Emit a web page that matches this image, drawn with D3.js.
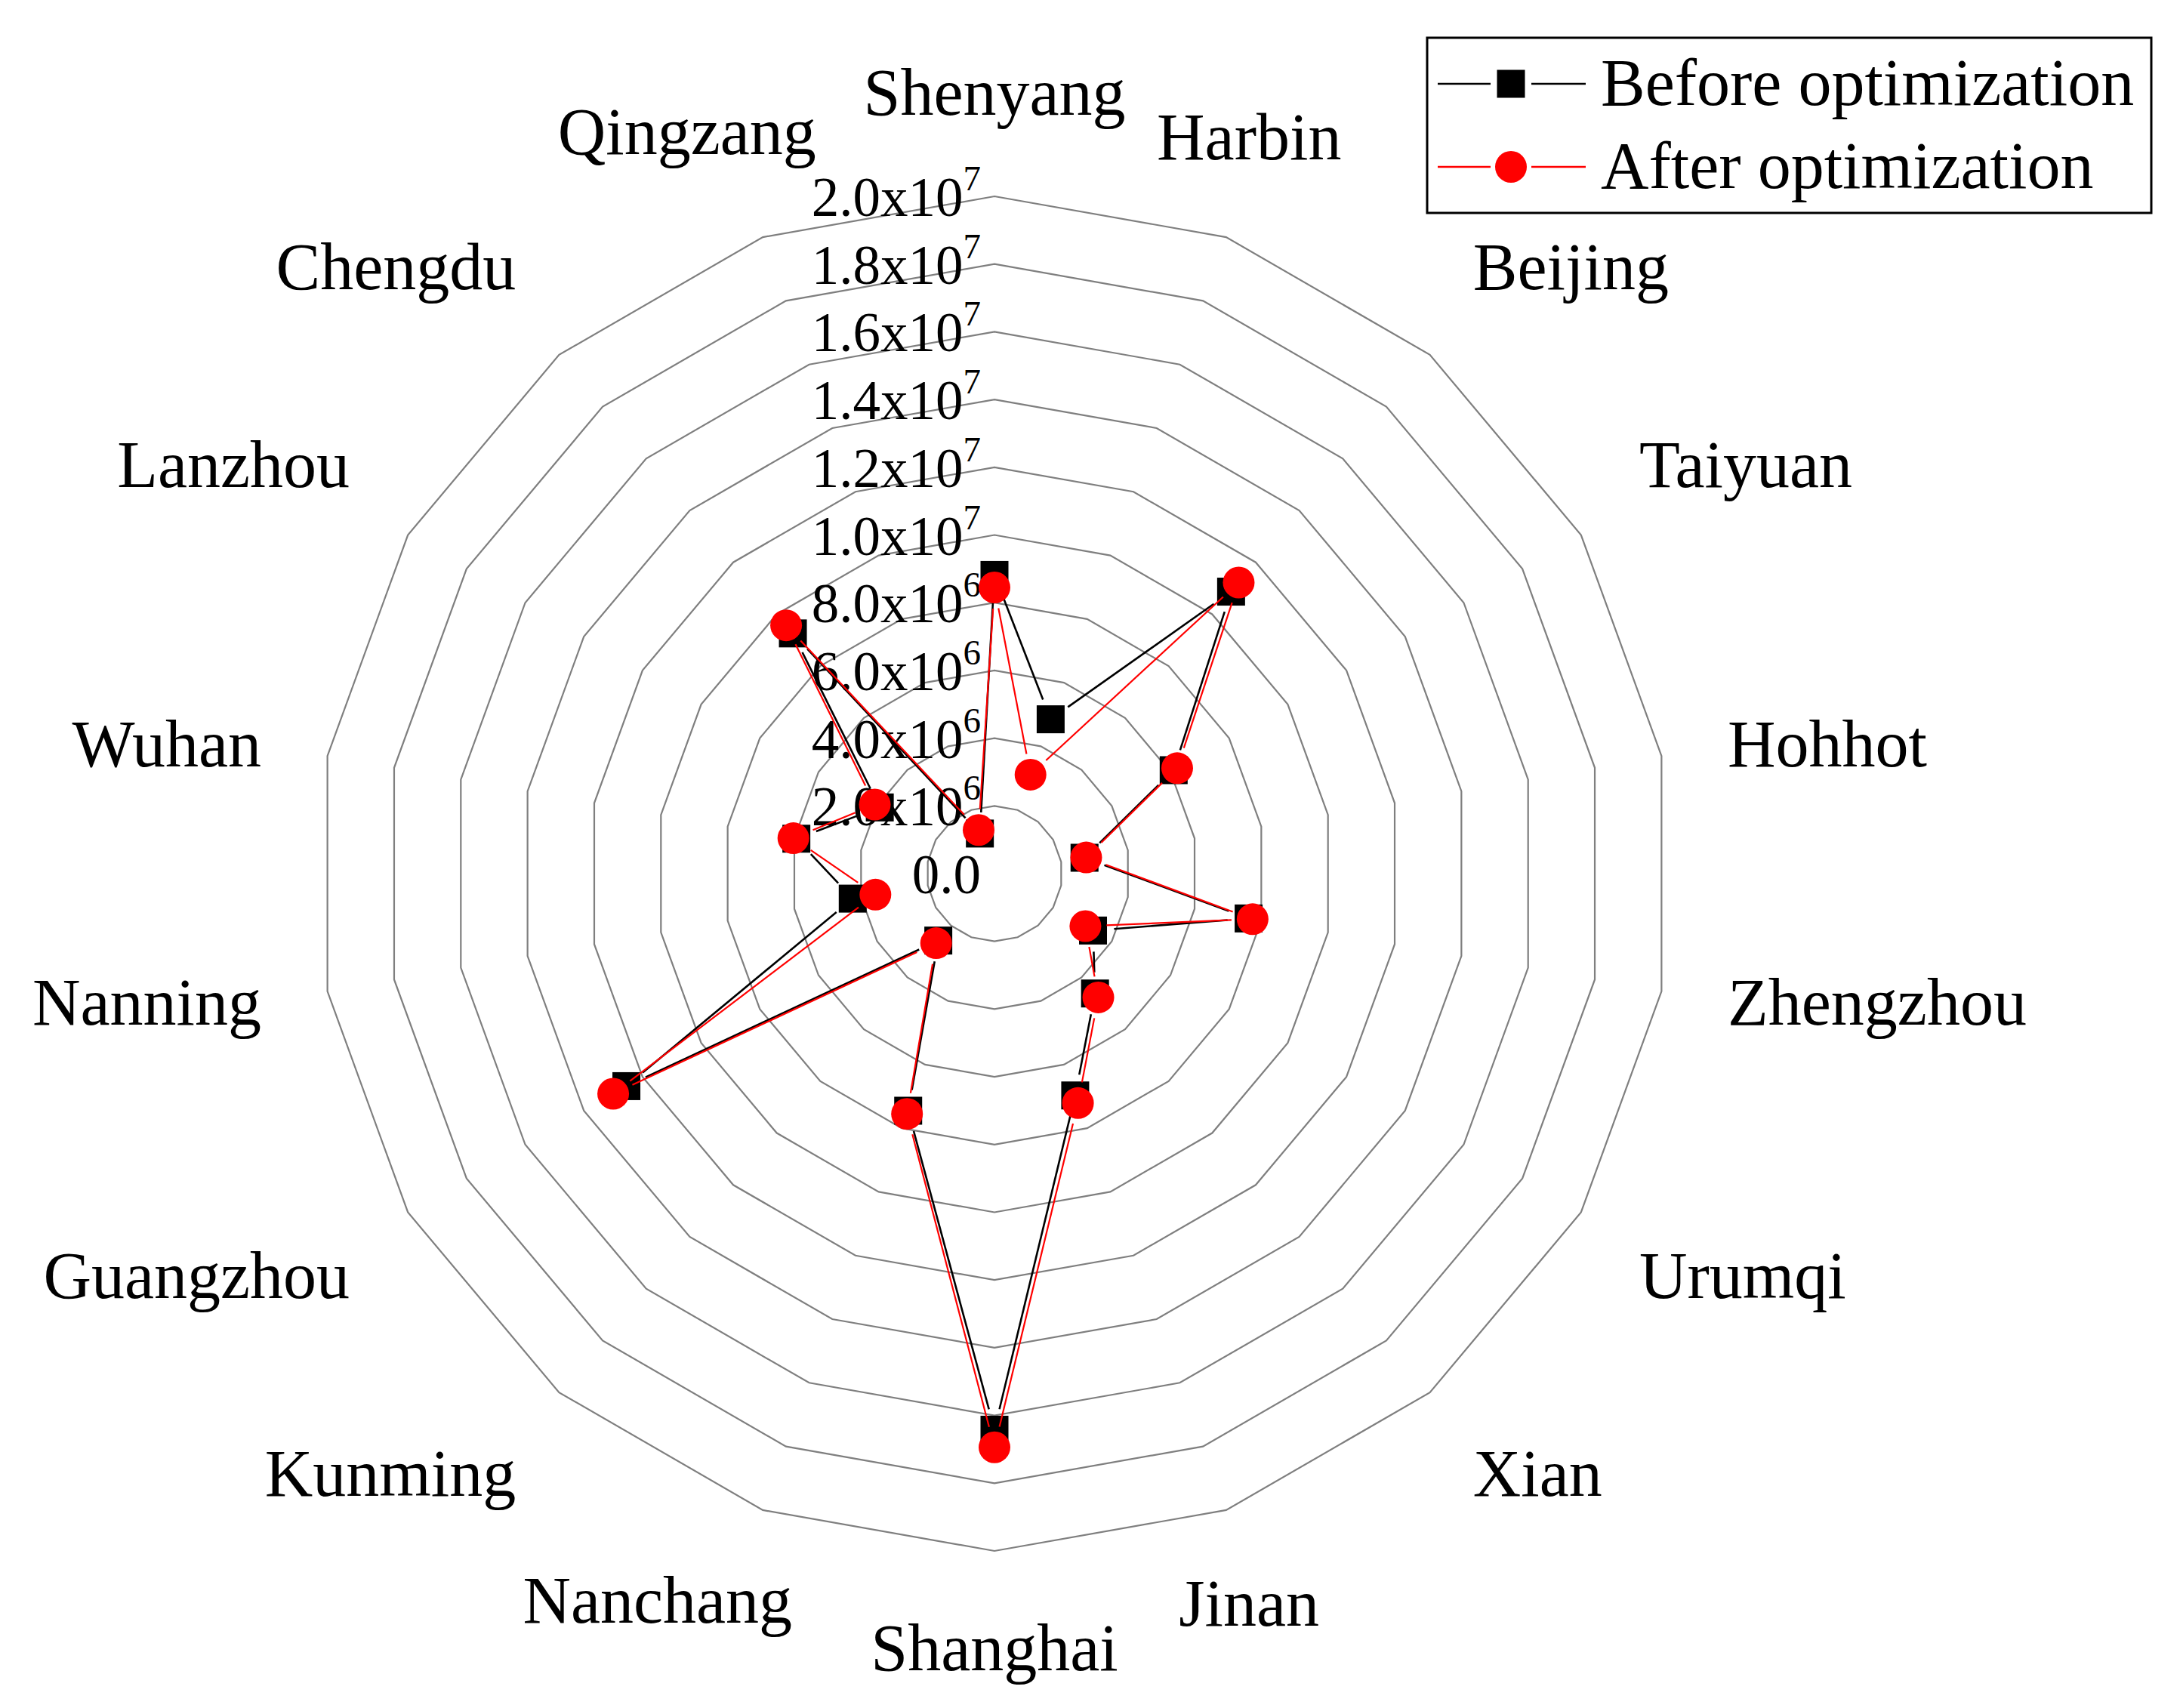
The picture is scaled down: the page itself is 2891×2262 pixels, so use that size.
<!DOCTYPE html>
<html>
<head>
<meta charset="utf-8">
<script src="https://cdn.jsdelivr.net/npm/d3@7"></script>
<style>
  html, body { margin: 0; padding: 0; background: #fff; }
  svg { display: block; font-family: "Liberation Serif", "Times New Roman", serif; }
</style>
</head>
<body>
<div id="chart"></div>
<script>

var cities = ["Shenyang", "Harbin", "Beijing", "Taiyuan", "Hohhot", "Zhengzhou", "Urumqi",
    "Xian", "Jinan", "Shanghai", "Nanchang", "Kunming", "Guangzhou", "Nanning", "Wuhan",
    "Lanzhou", "Chengdu", "Qingzang"];

var beforeOpt = [8.82e6, 4.85e6, 10.87e6, 6.11e6, 2.70e6, 7.62e6, 3.36e6, 4.62e6, 6.97e6,
    16.42e6, 7.45e6, 2.58e6, 12.55e6, 4.25e6, 5.94e6, 3.91e6, 9.26e6, 1.26e6];

var afterOpt = [8.45e6, 3.11e6, 11.22e6, 6.23e6, 2.75e6, 7.74e6, 3.10e6, 4.77e6, 7.21e6,
    16.94e6, 7.55e6, 2.68e6, 13.0e6, 3.57e6, 6.03e6, 4.08e6, 9.57e6, 1.37e6];

var ringTicks = [2e6, 4e6, 6e6, 8e6, 1e7, 1.2e7, 1.4e7, 1.6e7, 1.8e7, 2e7];
var labelTicks = [0].concat(ringTicks);

var seriesNames = ["Before optimization", "After optimization"];


var W = 2891, H = 2262;
var cx = 1317, cy = 1157, R = 897;
var labelR = 986;

// hand nudges for the two labels that were moved in the original
var labelNudge = { "Nanchang": [-109, -4], "Qingzang": [-70, -7] };

var svg = d3.select("#chart").append("svg")
    .attr("width", W)
    .attr("height", H);

svg.append("rect").attr("width", W).attr("height", H).style("fill", "white");

var rScale = d3.scaleLinear().domain([0, 2e7]).range([0, R]);
var aScale = d3.scaleLinear().domain([0, cities.length]).range([0, 2 * Math.PI]);

function pt(i, v) {
    var a = aScale(i), r = rScale(v);
    return [cx + r * Math.sin(a), cy - r * Math.cos(a)];
}

var g = svg.append("g");

// grid rings (18-gons)
var ringLine = d3.line();
g.selectAll(".ring")
    .data(ringTicks)
    .enter().append("path")
    .attr("class", "ring")
    .attr("d", function(v) {
        return ringLine(cities.map(function(c, i) { return pt(i, v); })) + "Z";
    })
    .style("fill", "none")
    .style("stroke", "#7f7f7f")
    .style("stroke-width", 2.2);

// radial tick labels
function fmtTick(v) {
    if (v === 0) return { m: "0.0", e: "" };
    var e = Math.floor(Math.log10(v) + 1e-9);
    return { m: (v / Math.pow(10, e)).toFixed(1) + "x10", e: String(e) };
}

var tickText = g.selectAll(".tick")
    .data(labelTicks)
    .enter().append("text")
    .attr("class", "tick")
    .attr("x", cx - 18)
    .attr("y", function(v) { return cy - rScale(v) + 26; })
    .style("text-anchor", "end")
    .style("font-size", "73px")
    .style("fill", "black");

tickText.append("tspan").text(function(v) { return fmtTick(v).m; });
tickText.append("tspan")
    .attr("dy", -34)
    .style("font-size", "47px")
    .text(function(v) { return fmtTick(v).e; });

// category labels
g.selectAll(".cat")
    .data(cities)
    .enter().append("text")
    .attr("class", "cat")
    .each(function(c, i) {
        var a = aScale(i);
        var s = Math.sin(a), co = Math.cos(a);
        var ax = cx + labelR * s, ay = cy - labelR * co;
        var anchor = Math.abs(s) < 0.4 ? "middle" : (s > 0 ? "start" : "end");
        var base;
        if (co > 0.4) base = ay - 19;
        else if (co < -0.4) base = ay + 69;
        else base = ay + 29;
        var n = labelNudge[c] || [0, 0];
        d3.select(this)
            .attr("x", ax + n[0])
            .attr("y", base + n[1])
            .style("text-anchor", anchor);
    })
    .style("font-size", "88px")
    .style("fill", "black")
    .text(function(c) { return c; });

// series
var gap = 28;

function drawSeries(values, color, width, shape) {
    var pts = values.map(function(v, i) { return pt(i, v); });
    var segs = pts.map(function(p, i) { return [p, pts[(i + 1) % pts.length]]; });

    g.append("g").selectAll("line")
        .data(segs.filter(function(s) {
            var dx = s[1][0] - s[0][0], dy = s[1][1] - s[0][1];
            return Math.sqrt(dx * dx + dy * dy) > 2 * gap;
        }))
        .enter().append("line")
        .each(function(s) {
            var dx = s[1][0] - s[0][0], dy = s[1][1] - s[0][1];
            var L = Math.sqrt(dx * dx + dy * dy);
            var ux = dx / L, uy = dy / L;
            d3.select(this)
                .attr("x1", s[0][0] + ux * gap).attr("y1", s[0][1] + uy * gap)
                .attr("x2", s[1][0] - ux * gap).attr("y2", s[1][1] - uy * gap);
        })
        .style("stroke", color)
        .style("stroke-width", width);

    var mg = g.append("g");
    if (shape === "square") {
        mg.selectAll("rect")
            .data(pts)
            .enter().append("rect")
            .attr("x", function(p) { return p[0] - 18.5; })
            .attr("y", function(p) { return p[1] - 18.5; })
            .attr("width", 37)
            .attr("height", 37)
            .style("fill", color);
    } else {
        mg.selectAll("circle")
            .data(pts)
            .enter().append("circle")
            .attr("cx", function(p) { return p[0]; })
            .attr("cy", function(p) { return p[1]; })
            .attr("r", 21)
            .style("fill", color);
    }
}

drawSeries(beforeOpt, "black", 2.6, "square");
drawSeries(afterOpt, "#ff0000", 2.2, "circle");

// legend
var legend = svg.append("g").attr("class", "legend");

legend.append("rect")
    .attr("x", 1890).attr("y", 50)
    .attr("width", 959).attr("height", 232)
    .style("fill", "white")
    .style("stroke", "black")
    .style("stroke-width", 3);

var legRows = [
    { name: seriesNames[0], color: "black", shape: "square", y: 111 },
    { name: seriesNames[1], color: "#ff0000", shape: "circle", y: 221 }
];

legRows.forEach(function(d) {
    var row = legend.append("g");
    row.append("line")
        .attr("x1", 1904).attr("x2", 1974).attr("y1", d.y).attr("y2", d.y)
        .style("stroke", d.color).style("stroke-width", 2.6);
    row.append("line")
        .attr("x1", 2028).attr("x2", 2100).attr("y1", d.y).attr("y2", d.y)
        .style("stroke", d.color).style("stroke-width", 2.6);
    if (d.shape === "square") {
        row.append("rect")
            .attr("x", 2001 - 18.5).attr("y", d.y - 18.5)
            .attr("width", 37).attr("height", 37)
            .style("fill", d.color);
    } else {
        row.append("circle")
            .attr("cx", 2001).attr("cy", d.y).attr("r", 21)
            .style("fill", d.color);
    }
    row.append("text")
        .attr("x", 2120)
        .attr("y", d.y + 28)
        .style("font-size", "88px")
        .style("fill", "black")
        .text(d.name);
});

</script>
</body>
</html>
